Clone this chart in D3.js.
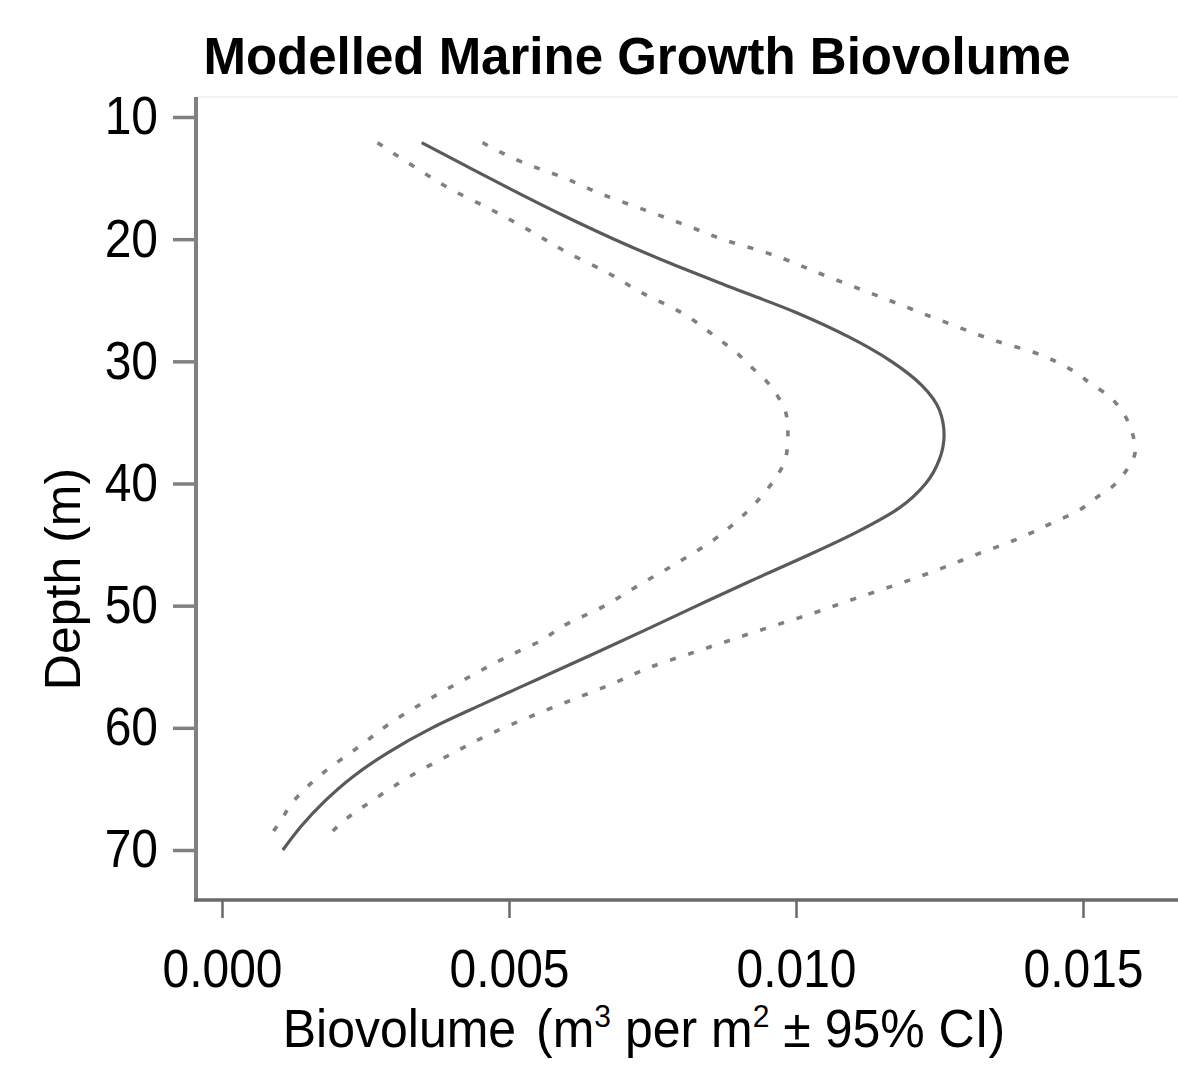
<!DOCTYPE html>
<html>
<head>
<meta charset="utf-8">
<script src="https://cdn.jsdelivr.net/npm/d3@7"></script>
<style>
  html, body { margin: 0; padding: 0; background: #fff; }
  svg { display: block; }
  text { font-family: "Liberation Sans", Arial, sans-serif; fill: #000; }
</style>
</head>
<body>
<svg id="chart" width="1178" height="1073"></svg>
<script>
// ---- data ----
const chartTitle = "Modelled Marine Growth Biovolume";
const yTitle = "Depth (m)";
const yTicks = [10, 20, 30, 40, 50, 60, 70];
const xTicks = [0.000, 0.005, 0.010, 0.015];

// Mean modelled biovolume (solid line)
const meanDepth = [12.1, 14, 16, 18, 20, 22, 24, 26, 28, 30, 32, 34, 36, 38, 40, 42, 44, 46, 48, 50, 52, 54, 56, 58, 60, 62, 64, 66, 68, 70];
const meanValue = [0.00348, 0.00425, 0.00507, 0.00592, 0.00683, 0.00782, 0.00890, 0.01000, 0.01092, 0.01166, 0.01220, 0.01250, 0.01258, 0.01250, 0.01226, 0.01180, 0.01105, 0.01015, 0.00920, 0.00828, 0.00737, 0.00645, 0.00551, 0.00457, 0.00366, 0.00290, 0.00228, 0.00179, 0.00139, 0.00106];

// Lower 95% CI (dashed)
const lowerDepth = [12.1, 14.2, 16.0, 17.6, 19.3, 21.1, 22.7, 24.4, 26.0, 28.1, 29.2, 30.5, 31.7, 33.0, 34.6, 36.3, 38.1, 39.5, 41.1, 42.3, 43.4, 44.6, 46.5, 48.3, 50.1, 51.7, 52.8, 54.2, 55.9, 57.6, 59.5, 61.6, 63.7, 66.1, 67.7, 69.2];
const lowerValue = [0.00271, 0.00339, 0.00402, 0.00470, 0.00536, 0.00602, 0.00670, 0.00732, 0.00800, 0.00863, 0.00894, 0.00923, 0.00950, 0.00970, 0.00984, 0.00986, 0.00981, 0.00965, 0.00939, 0.00915, 0.00889, 0.00857, 0.00793, 0.00727, 0.00663, 0.00593, 0.00558, 0.00496, 0.00428, 0.00363, 0.00297, 0.00237, 0.00176, 0.00123, 0.00101, 0.00078];

// Upper 95% CI (dashed)
const upperDepth = [12.1, 13.7, 15.0, 16.4, 17.6, 18.8, 20.1, 21.1, 23.1, 25.0, 26.9, 28.4, 29.2, 30.7, 31.8, 32.8, 34.0, 35.6, 37.3, 38.9, 40.3, 41.2, 42.3, 43.1, 44.5, 45.8, 47.1, 48.3, 49.4, 50.6, 51.7, 52.8, 53.9, 55.0, 56.5, 57.8, 59.1, 60.6, 62.2, 63.9, 65.7, 67.9, 69.2];
const upperValue = [0.00454, 0.00523, 0.00597, 0.00666, 0.00736, 0.00805, 0.00878, 0.00948, 0.01057, 0.01162, 0.01266, 0.01353, 0.01410, 0.01480, 0.01513, 0.01544, 0.01567, 0.01584, 0.01591, 0.01576, 0.01550, 0.01522, 0.01489, 0.01452, 0.01388, 0.01315, 0.01245, 0.01174, 0.01104, 0.01031, 0.00958, 0.00887, 0.00817, 0.00748, 0.00675, 0.00605, 0.00536, 0.00463, 0.00397, 0.00330, 0.00270, 0.00205, 0.00179];

// ---- chart ----
const svg = d3.select("#chart");
const x = d3.scaleLinear().domain([0, 0.015]).range([222, 1083]);
const y = d3.scaleLinear().domain([10, 70]).range([117, 850]);

const axisColor = "#808080";
const frame = { left: 196, top: 97, right: 1178, bottom: 900 };
const stretch = 1.1;

// faint top border of panel
svg.append("line")
  .attr("x1", frame.left).attr("x2", frame.right)
  .attr("y1", frame.top).attr("y2", frame.top)
  .attr("stroke", "#f2f2f2").attr("stroke-width", 2);

// y axis
const gy = svg.append("g")
  .attr("transform", `translate(${frame.left},0)`)
  .call(d3.axisLeft(y).tickValues(yTicks).tickSize(23).tickPadding(15).tickFormat(d3.format("d")));
gy.select(".domain").remove();
gy.selectAll(".tick line").attr("stroke", axisColor).attr("stroke-width", 3.5);
gy.selectAll(".tick text")
  .attr("font-size", 48)
  .attr("font-family", "'Liberation Sans', Arial, sans-serif")
  .attr("fill", "#000")
  .attr("transform", `scale(1,${stretch})`);

// x axis
const gx = svg.append("g")
  .attr("transform", `translate(0,${frame.bottom})`)
  .call(d3.axisBottom(x).tickValues(xTicks).tickSize(18).tickPadding(27).tickFormat(d3.format(".3f")));
gx.select(".domain").remove();
gx.selectAll(".tick line").attr("stroke", "#6a6a6a").attr("stroke-width", 2.5);
gx.selectAll(".tick text")
  .attr("font-size", 48)
  .attr("font-family", "'Liberation Sans', Arial, sans-serif")
  .attr("fill", "#000")
  .attr("transform", `scale(1,${stretch})`);

// axis lines
svg.append("line")
  .attr("x1", frame.left).attr("x2", frame.left)
  .attr("y1", frame.top).attr("y2", frame.bottom + 1.5)
  .attr("stroke", axisColor).attr("stroke-width", 4);
svg.append("line")
  .attr("x1", frame.left - 2).attr("x2", frame.right)
  .attr("y1", frame.bottom).attr("y2", frame.bottom)
  .attr("stroke", "#6a6a6a").attr("stroke-width", 3.5);

// curves
const line = d3.line()
  .x(d => x(d[1]))
  .y(d => y(d[0]))
  .curve(d3.curveMonotoneY);

const meanPts = meanDepth.map((d, i) => [d, meanValue[i]]);
const lowerPts = lowerDepth.map((d, i) => [d, lowerValue[i]]);
const upperPts = upperDepth.map((d, i) => [d, upperValue[i]]);

[lowerPts, upperPts].forEach(pts => {
  svg.append("path")
    .datum(pts)
    .attr("d", line)
    .attr("fill", "none")
    .attr("stroke", "#808080")
    .attr("stroke-width", 3.6)
    .attr("stroke-dasharray", "6,13");
});

svg.append("path")
  .datum(meanPts)
  .attr("d", line)
  .attr("fill", "none")
  .attr("stroke", "#5a5a5a")
  .attr("stroke-width", 3.2);

// title
svg.append("text")
  .attr("x", 637).attr("y", 74)
  .attr("text-anchor", "middle")
  .attr("font-size", 51)
  .attr("font-weight", "bold")
  .text(chartTitle);

// y title
svg.append("text")
  .attr("transform", "translate(80,579) rotate(-90)")
  .attr("text-anchor", "middle")
  .attr("font-size", 50)
  .text(yTitle);

// x title
const xt = svg.append("text")
  .attr("transform", `translate(644,1047) scale(1,1.06)`)
  .attr("text-anchor", "middle")
  .attr("font-size", 50);
xt.append("tspan").text("Biovolume");
xt.append("tspan").attr("dx", 6).text(" (m");
xt.append("tspan").attr("font-size", 30).attr("dy", -19).text("3");
xt.append("tspan").attr("dy", 19).text(" per m");
xt.append("tspan").attr("font-size", 30).attr("dy", -19).text("2");
xt.append("tspan").attr("dy", 19).text(" \u00B1 95% CI)");
</script>
</body>
</html>
